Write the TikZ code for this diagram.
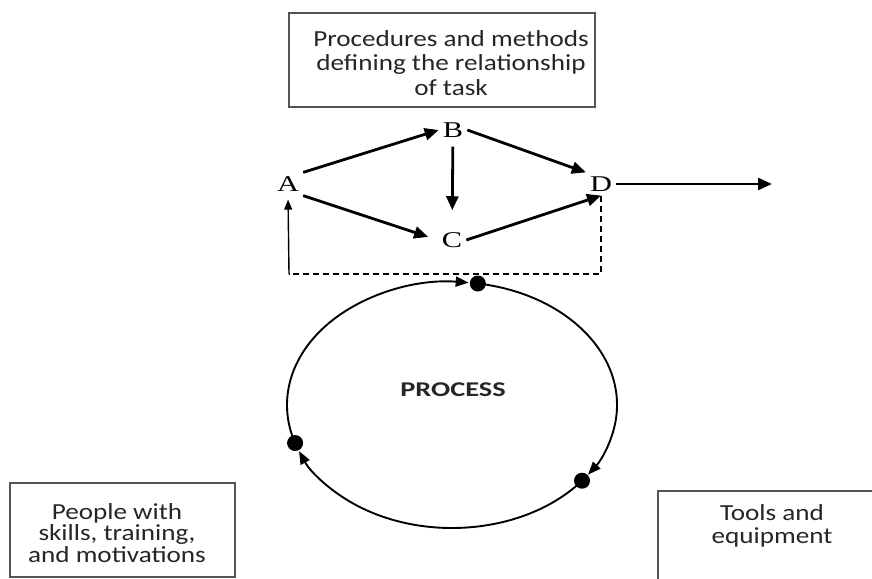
\documentclass[tikz,border=0pt]{standalone}
\usepackage{fontspec}
\setmainfont{Carlito}[FakeStretch=1.18]
\newfontfamily\letterfont{Liberation Serif}[FakeStretch=1.35]
\newfontfamily\procfont{Carlito}[FakeStretch=1.35]
\usetikzlibrary{arrows.meta}
\definecolor{boxgray}{gray}{0.33}
\definecolor{textgray}{gray}{0.15}
\begin{document}
\begin{tikzpicture}[x=1pt,y=-1pt,
  box/.style={draw=boxgray, line width=1.6pt, inner sep=0pt},
  boxtext/.style={align=center, text=textgray, inner sep=0pt},
  letter/.style={font=\letterfont\fontsize{22.5}{24}\selectfont, inner sep=4pt},
  flow/.style={line width=2.8pt, -{Triangle[length=14pt,width=12pt]}},
  feedback/.style={line width=1.4pt},
  ring/.style={line width=1.9pt, -{Triangle[length=13pt,width=10pt]}},
  dot/.style={circle, fill=black, inner sep=0pt, minimum size=16pt},
]
\clip (0,0) rectangle (872,578);

% task network
\node[letter] (A) at (288,184) {A};
\node[letter] (B) at (453,130) {B};
\node[letter] (C) at (452,240) {C};
\node[letter] (D) at (601,184) {D};
\coordinate (out) at (772,184);
\coordinate (fb) at (289,274);

\draw[flow] (A.north east) -- (B.west);
\draw[flow] (B.east) -- (D.north west);
\draw[flow, shorten <=5pt, shorten >=18pt] (B) -- (C);
\draw[flow, shorten >=10pt] (A.south east) -- (C.west);
\draw[flow] (C.east) -- (D.south);
\draw[flow] (D.east) -- (out);

% feedback loop back to A
\draw[feedback, dash pattern=on 6pt off 4pt] (D.south) -- (D.south |- fb) -- (fb);
\draw[feedback, -{Triangle[length=10pt,width=8pt]}, shorten >=4pt] (fb) -- (A.south);

% process cycle
\coordinate (pc) at (452,405);
\node[font=\procfont\bfseries\fontsize{21}{24}\selectfont, text=textgray] (proc) at (453,390) {PROCESS};
\node[dot] (top) at ([shift={(279:165pt and -123pt)}]pc) {};
\node[dot] (right) at ([shift={(38:165pt and -123pt)}]pc) {};
\node[dot] (left) at ([shift={(162:165pt and -123pt)}]pc) {};

\draw[ring] ([shift={(162:165pt and -123pt)}]pc) arc[start angle=162, end angle=275.8, x radius=165pt, y radius=-123pt];
\draw[ring] ([shift={(279:165pt and -123pt)}]pc) arc[start angle=279, end angle=394.5, x radius=165pt, y radius=-123pt];
\draw[ring] ([shift={(38:165pt and -123pt)}]pc) arc[start angle=38, end angle=158, x radius=165pt, y radius=-123pt];

% resource boxes
\node[box, minimum width=306pt, minimum height=94pt] (procbox) at (442,60) {};
\node[boxtext, font=\fontsize{23}{24.5}\selectfont] (proctext) at (451,63)
  {Procedures and methods\\defining the relationship\\of task};

\node[box, minimum width=225pt, minimum height=94pt] (peoplebox) at (122.5,530) {};
\node[boxtext, font=\fontsize{23}{21.5}\selectfont] (peopletext) at (117,533)
  {People with\\skills, training,\\and motivations};

\node[box, anchor=north west, minimum width=260pt, minimum height=120pt] (toolsbox) at (657,490) {};
\node[boxtext, font=\fontsize{23}{23}\selectfont] (toolstext) at (772,526)
  {Tools and\\equipment};
\end{tikzpicture}
\end{document}
